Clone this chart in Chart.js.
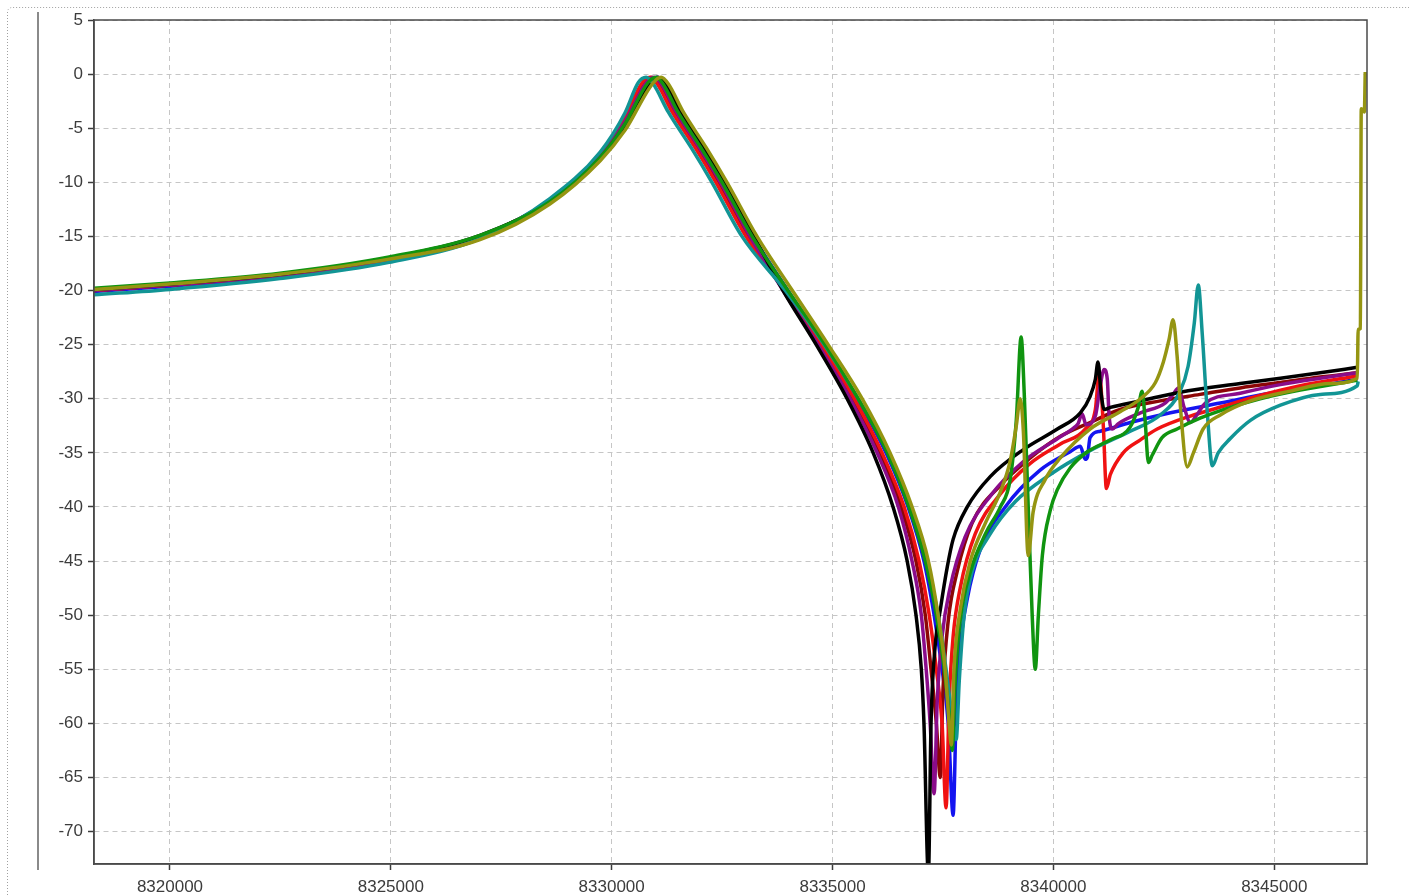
<!DOCTYPE html>
<html>
<head>
<meta charset="utf-8">
<style>
  html, body { margin: 0; padding: 0; background: #ffffff; }
  #wrap { position: relative; width: 1409px; height: 895px; }
</style>
<script src="https://cdn.jsdelivr.net/npm/chart.js@4.4.1/dist/chart.umd.min.js"></script>
</head>
<body>
<div id="wrap"><canvas id="sweep"></canvas></div>
<script>
// Axis tick values: frequency in Hz, level in dB
const freqTicks = [8320000, 8325000, 8330000, 8335000, 8340000, 8345000];
const levelTicks = [5, 0, -5, -10, -15, -20, -25, -30, -35, -40, -45, -50, -55, -60, -65, -70];

// Measured sweeps, each point is [frequency Hz, level dB]
const traceBlack = [
  [8318280,-19.9],[8320000,-19.4],[8322490,-18.5],[8324960,-17.0],[8327020,-14.9],[8328600,-11.8],[8329740,-7.8],[8330300,-4.8],
  [8330870,-0.8],[8331050,-0.3],[8331210,-0.9],[8331550,-3.5],[8332070,-6.8],
  [8332550,-10],[8333220,-15],[8333880,-20],[8334630,-25],[8335330,-30],[8335920,-35],[8336370,-40],[8336690,-45],[8336890,-50],[8337010,-55],[8337070,-60],[8337170,-74],
  [8337230,-60],[8337320,-53],[8337440,-49.5],[8337600,-45.5],[8337730,-43],[8338050,-40],[8338570,-37.2],[8339320,-34.7],[8340090,-32.8],[8340610,-31.3],
  [8340830,-29.8],[8340950,-28.2],[8341010,-26.6],[8341080,-29.5],[8341150,-31.0],[8341290,-30.8],[8341970,-30.2],[8342870,-29.4],[8344230,-28.6],[8345140,-28.1],[8346040,-27.6],[8346880,-27.1]
];
const tracePurple = [
  [8318280,-20.0],[8320000,-19.5],[8322490,-18.6],[8324960,-17.1],[8327020,-15.0],[8328600,-11.7],[8329740,-7.6],[8330300,-4.4],
  [8330780,-0.8],[8330960,-0.3],[8331120,-0.9],[8331460,-3.5],[8331980,-6.8],
  [8332460,-10],[8333130,-15],[8333880,-20],[8334670,-25],[8335400,-30],[8336010,-35],[8336490,-40],[8336800,-45],[8337010,-50],[8337120,-55],[8337210,-60],[8337300,-66.5],
  [8337370,-58],[8337480,-52],[8337660,-47.5],[8338000,-42.8],[8338570,-39],[8339320,-35.8],[8340090,-33.7],[8340490,-32.6],[8340560,-32.3],[8340650,-31.4],[8340740,-32.4],
  [8340950,-31.6],[8341060,-28.8],[8341150,-27.3],[8341220,-28.2],[8341260,-31.5],[8341330,-32.8],[8341470,-32.3],[8341970,-31.3],[8342530,-30.4],[8342710,-29.6],
  [8342830,-29.0],[8342960,-30.8],[8343100,-32.2],[8343230,-31.6],[8343440,-30.4],[8344230,-29.5],[8345140,-28.7],[8346040,-28.1],[8346880,-27.6]
];
const traceMaroon = [
  [8318280,-20.0],[8320000,-19.5],[8322490,-18.6],[8324960,-17.1],[8327020,-15.0],[8328600,-11.7],[8329740,-7.5],[8330300,-4.2],
  [8330730,-0.8],[8330910,-0.3],[8331070,-0.9],[8331410,-3.5],[8331930,-6.8],
  [8332410,-10],[8333090,-15],[8333900,-20],[8334720,-25],[8335440,-30],[8336080,-35],[8336550,-40],[8336890,-45],[8337100,-50],[8337230,-55],[8337350,-60],[8337440,-65],
  [8337500,-57],[8337620,-50.5],[8337820,-46],[8338160,-41.5],[8338800,-38],[8339470,-35.5],[8340150,-33.5],[8340830,-32.2],[8341510,-31.0],[8342420,-30.2],
  [8343320,-29.6],[8344230,-29.0],[8345140,-28.5],[8346040,-28.0],[8346880,-27.6]
];
const traceRed = [
  [8318280,-20.0],[8320000,-19.5],[8322490,-18.6],[8324960,-17.2],[8327020,-15.2],[8328600,-11.6],[8329740,-7.4],[8330300,-4.0],
  [8330690,-0.8],[8330870,-0.3],[8331030,-0.9],[8331370,-3.5],[8331890,-6.8],
  [8332360,-10],[8333040,-15],[8333930,-20],[8334740,-25],[8335490,-30],[8336120,-35],[8336620,-40],[8336960,-45],[8337190,-50],[8337350,-55],[8337480,-60],[8337570,-67.8],
  [8337640,-58],[8337730,-52],[8337890,-47.5],[8338230,-42.5],[8338800,-38.8],[8339470,-36],[8340150,-34.2],[8340720,-32.8],[8340950,-31],[8341040,-27.6],
  [8341130,-32.5],[8341200,-38.3],[8341290,-37],[8341580,-35],[8341970,-33.8],[8342350,-32.8],[8343100,-31.6],[8343850,-30.7],[8344680,-29.7],[8345590,-28.8],[8346880,-27.9]
];
const traceBlue = [
  [8318280,-20.1],[8320000,-19.6],[8322490,-18.7],[8324960,-17.2],[8327020,-15.1],[8328600,-11.8],[8329740,-7.7],[8330300,-4.7],
  [8330850,-0.8],[8331030,-0.3],[8331190,-0.9],[8331530,-3.5],[8332050,-6.8],
  [8332520,-10],[8333200,-15],[8333990,-20],[8334810,-25],[8335560,-30],[8336210,-35],[8336710,-40],[8337070,-45],[8337300,-50],[8337480,-55],[8337620,-60],[8337730,-68.5],
  [8337800,-59],[8337890,-53],[8338050,-48.5],[8338340,-44],[8338910,-40],[8339700,-36.6],[8340380,-34.9],[8340610,-34.4],[8340720,-35.6],[8340770,-35.4],
  [8340830,-33.6],[8341060,-33.0],[8341740,-32.2],[8342650,-31.3],[8343780,-30.4],[8344910,-29.5],[8346040,-28.8],[8346880,-28.2]
];
const traceGreen = [
  [8318280,-19.8],[8320000,-19.3],[8322490,-18.4],[8324960,-16.9],[8327020,-14.9],[8328600,-11.8],[8329740,-7.7],[8330300,-4.6],
  [8330820,-0.8],[8331010,-0.3],[8331160,-0.9],[8331500,-3.5],[8332020,-6.8],
  [8332500,-10],[8333180,-15],[8333990,-20],[8334830,-25],[8335580,-30],[8336240,-35],[8336730,-40],[8337100,-45],[8337350,-50],[8337530,-55],[8337660,-60],[8337710,-62.5],
  [8337780,-56],[8337890,-50.5],[8338120,-46],[8338460,-42.5],[8338800,-40],[8339020,-37.5],[8339160,-32],[8339270,-24.3],[8339340,-29.5],[8339430,-40],
  [8339520,-50],[8339590,-55],[8339660,-50],[8339750,-44.5],[8339930,-40.3],[8340090,-38.4],[8340380,-36.4],[8340770,-34.9],[8341290,-33.8],[8341740,-32.6],
  [8341920,-30.8],[8342010,-29.3],[8342080,-32.2],[8342150,-35.9],[8342240,-35.2],[8342460,-33.6],[8342800,-32.8],[8343320,-31.8],[8343850,-31.0],[8344680,-30.0],
  [8345590,-29.2],[8346880,-28.3]
];
const traceTeal = [
  [8318280,-20.4],[8320000,-19.9],[8322490,-18.9],[8324960,-17.4],[8327020,-15.2],[8328600,-11.5],[8329740,-7.2],[8330300,-3.6],
  [8330600,-0.8],[8330780,-0.3],[8330940,-0.9],[8331280,-3.5],[8331800,-6.8],
  [8332270,-10],[8332950,-15],[8333930,-20],[8334810,-25],[8335580,-30],[8336260,-35],[8336760,-40],[8337120,-45],[8337390,-50],[8337570,-55],[8337730,-60],[8337800,-61.5],
  [8337870,-56],[8337980,-50],[8338160,-46],[8338570,-42.5],[8339140,-39.5],[8339930,-37],[8340830,-34.8],[8341740,-33],[8342420,-31.5],[8342870,-29.3],
  [8343050,-27],[8343190,-23],[8343280,-19.5],[8343370,-24],[8343480,-31],[8343600,-36.2],[8343730,-35],[8344000,-33.7],[8344460,-32],[8345140,-30.6],
  [8346040,-29.6],[8346880,-28.8],[8346900,-28.4]
];
const traceOlive = [
  [8318280,-19.9],[8320000,-19.4],[8322490,-18.5],[8324960,-17.1],[8327020,-15.3],[8328600,-12.0],[8329740,-8.0],[8330300,-5.2],
  [8330940,-0.8],[8331120,-0.3],[8331280,-0.9],[8331620,-3.5],[8332140,-6.8],
  [8332610,-10],[8333290,-15],[8334090,-20],[8334900,-25],[8335670,-30],[8336300,-35],[8336800,-40],[8337170,-45],[8337390,-50],[8337550,-55],[8337640,-60],[8337690,-62],
  [8337750,-55],[8337890,-49.5],[8338120,-45],[8338460,-41.5],[8338800,-38.6],[8339020,-35.8],[8339160,-32.5],[8339250,-30],[8339320,-33],[8339430,-44.5],
  [8339540,-40.5],[8339810,-37.5],[8340150,-35.5],[8340830,-32.8],[8341510,-31.2],[8341970,-30],[8342310,-28.5],[8342490,-26.6],[8342620,-24.5],[8342710,-22.7],
  [8342800,-26],[8342890,-31.5],[8343030,-36.3],[8343170,-35],[8343390,-32.8],[8343780,-31.5],[8344460,-30.2],[8345360,-29.3],[8346270,-28.6],[8346880,-28.1],
  [8346900,-23.6],[8346950,-23.5],[8346970,-3.2],[8347040,-3.5],[8347060,0.2]
];

// Drawing order: first entry ends up on top
const traces = [
  { label: 'Sweep 8', color: '#959512', points: traceOlive },
  { label: 'Sweep 6', color: '#109410', points: traceGreen },
  { label: 'Sweep 7', color: '#129595', points: traceTeal },
  { label: 'Sweep 1', color: '#000000', points: traceBlack },
  { label: 'Sweep 2', color: '#8a0c8a', points: tracePurple },
  { label: 'Sweep 4', color: '#f01212', points: traceRed },
  { label: 'Sweep 3', color: '#8c0606', points: traceMaroon },
  { label: 'Sweep 5', color: '#1414f0', points: traceBlue }
];

const tickFont = { family: 'Liberation Sans', size: 17 };
const textColor = '#3c3c3c';
const gridColor = '#c6c6c6';

// Panel decoration and the plot frame
const framePlugin = {
  id: 'panelFrame',
  beforeDraw(chart) {
    const ctx = chart.ctx;
    ctx.save();
    ctx.strokeStyle = '#a0a0a0';
    ctx.lineWidth = 1;
    ctx.setLineDash([1, 2]);
    ctx.beginPath();
    ctx.moveTo(7.5, 895);
    ctx.lineTo(7.5, 12);
    ctx.arcTo(7.5, 7.5, 12, 7.5, 4.5);
    ctx.lineTo(1409, 7.5);
    ctx.stroke();
    ctx.setLineDash([]);
    ctx.strokeStyle = '#8a8a8a';
    ctx.lineWidth = 2;
    ctx.beginPath();
    ctx.moveTo(38, 12);
    ctx.lineTo(38, 870);
    ctx.stroke();
    ctx.restore();
  },
  afterDatasetsDraw(chart) {
    const { ctx, chartArea: a } = chart;
    ctx.save();
    ctx.strokeStyle = '#4a4a4a';
    ctx.lineWidth = 1.5;
    ctx.strokeRect(a.left, a.top, a.right - a.left, a.bottom - a.top);
    ctx.restore();
  }
};

new Chart(document.getElementById('sweep'), {
  type: 'line',
  data: {
    datasets: traces.map(t => ({
      label: t.label,
      data: t.points.map(p => ({ x: p[0], y: p[1] })),
      borderColor: t.color,
      backgroundColor: t.color,
      borderWidth: 3.5,
      pointRadius: 0,
      fill: false,
      cubicInterpolationMode: 'monotone'
    }))
  },
  options: {
    responsive: true,
    maintainAspectRatio: false,
    animation: false,
    events: [],
    layout: { padding: { left: 0, top: 20, right: 42, bottom: 0 } },
    plugins: { legend: { display: false }, tooltip: { enabled: false } },
    scales: {
      x: {
        type: 'linear',
        min: 8318280,
        max: 8347100,
        afterBuildTicks: s => { s.ticks = freqTicks.map(v => ({ value: v })); },
        afterFit: s => { s.height = 31; },
        ticks: { callback: v => String(v), color: textColor, font: tickFont, padding: 7, maxRotation: 0, autoSkip: false },
        grid: { color: gridColor, lineWidth: 1, tickLength: 6, tickColor: '#3c3c3c', tickWidth: 1.5 },
        border: { display: true, color: '#4a4a4a', width: 1.5, dash: [5, 4] }
      },
      y: {
        min: -73,
        max: 5,
        afterBuildTicks: s => { s.ticks = levelTicks.map(v => ({ value: v })); },
        afterFit: s => { s.width = 94; },
        ticks: { callback: v => String(v), color: textColor, font: tickFont, padding: 5, autoSkip: false },
        grid: { color: gridColor, lineWidth: 1, tickLength: 6, tickColor: '#3c3c3c', tickWidth: 1.5 },
        border: { display: true, color: '#4a4a4a', width: 1.5, dash: [5, 4] }
      }
    }
  },
  plugins: [framePlugin]
});
</script>
</body>
</html>
